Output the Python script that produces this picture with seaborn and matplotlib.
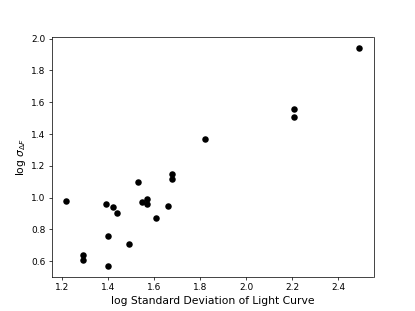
import matplotlib
matplotlib.use("Agg")
import matplotlib.pyplot as plt
import seaborn as sns
import pandas as pd

log_std_lc = [1.22, 1.29, 1.29, 1.39, 1.42, 1.44, 1.40, 1.40, 1.49, 1.53, 1.55,
              1.57, 1.57, 1.61, 1.66, 1.68, 1.68, 1.82, 2.21, 2.21, 2.49]
log_sigma_df = [0.98, 0.64, 0.61, 0.96, 0.94, 0.90, 0.76, 0.57, 0.71, 1.10, 0.97,
                0.99, 0.96, 0.87, 0.95, 1.15, 1.12, 1.37, 1.56, 1.51, 1.94]
x_ticks = [1.2, 1.4, 1.6, 1.8, 2.0, 2.2, 2.4]
y_ticks = [0.6, 0.8, 1.0, 1.2, 1.4, 1.6, 1.8, 2.0]

df = pd.DataFrame({"x": log_std_lc, "y": log_sigma_df})

dpi = 64.84
fig, ax = plt.subplots(figsize=(415 / dpi, 311 / dpi), dpi=dpi)
sns.scatterplot(data=df, x="x", y="y", ax=ax, color="black", s=52,
                edgecolor="black", linewidth=0)
ax.set_xlabel("log Standard Deviation of Light Curve", fontsize=12)
ax.set_ylabel(r"log $\sigma_{\Delta F}$", fontsize=12)
ax.set_xticks(x_ticks)
ax.set_yticks(y_ticks)
ax.tick_params(labelsize=10)
fig.savefig("out.png", dpi=dpi)
